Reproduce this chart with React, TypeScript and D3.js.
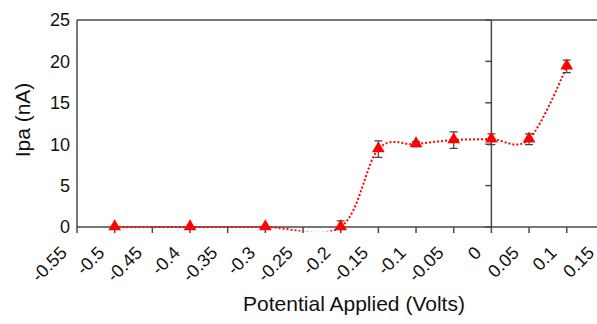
import React from 'react';
import * as d3 from 'd3';

const xValues = [-0.5, -0.4, -0.3, -0.2, -0.15, -0.1, -0.05, 0, 0.05, 0.1];
const ipaValues = [0, 0, 0, 0, 9.4, 10.0, 10.5, 10.6, 10.6, 19.4];
const errValues = [0, 0, 0, 0.75, 1.0, 0.3, 1.0, 0.65, 0.65, 0.75];
const xTickValues = [-0.55, -0.5, -0.45, -0.4, -0.35, -0.3, -0.25, -0.2, -0.15, -0.1, -0.05, 0, 0.05, 0.1, 0.15];
const xTickLabels = ['-0.55', '-0.5', '-0.45', '-0.4', '-0.35', '-0.3', '-0.25', '-0.2', '-0.15', '-0.1', '-0.05', '0', '0.05', '0.1', '0.15'];
const yTickValues = [0, 5, 10, 15, 20, 25];
const yTickLabels = ['0', '5', '10', '15', '20', '25'];

const W = 597;
const H = 324;
const FONT = '"Liberation Sans", Arial, sans-serif';
const AXIS = '#4a4a4a';

export default function App() {
  const x = d3.scaleLinear().domain([-0.55, 0.15]).range([77, 604.4]);
  const y = d3.scaleLinear().domain([0, 25]).range([227, 20]);
  const pts: [number, number][] = xValues.map((v, i) => [x(v), y(ipaValues[i])]);
  const line = d3.line().curve(d3.curveCardinal.tension(0))(pts) || '';
  const tri = d3.symbol().type(d3.symbolTriangle).size(70)() || '';
  const x0 = x(0);
  const yBase = y(0);
  return (
    <svg width={W} height={H} style={{ position: 'absolute', left: 0, top: 0, background: '#fff' }} fontFamily={FONT}>
      <defs>
        <clipPath id="plotclip">
          <rect x={x(-0.55)} y={y(25)} width={W - x(-0.55)} height={yBase + 4.5 - y(25)} />
        </clipPath>
      </defs>
      {/* plot border */}
      <line x1={x(-0.55)} x2={W} y1={y(25)} y2={y(25)} stroke={AXIS} strokeWidth={1.5} />
      <line x1={x(-0.55)} x2={x(-0.55)} y1={y(25)} y2={yBase} stroke={AXIS} strokeWidth={1.5} />
      {/* vertical axis at x=0 */}
      <line x1={x0} x2={x0} y1={y(25)} y2={yBase} stroke={AXIS} strokeWidth={1.5} />
      {yTickValues.map((v) => (
        <line key={'yt' + v} x1={x0 - 6} x2={x0} y1={y(v)} y2={y(v)} stroke={AXIS} strokeWidth={1.5} />
      ))}
      {/* horizontal axis */}
      <line x1={x(-0.55)} x2={W} y1={yBase} y2={yBase} stroke={AXIS} strokeWidth={1.5} />
      {xTickValues.map((v) => (
        <line key={'xt' + v} x1={x(v)} x2={x(v)} y1={yBase} y2={yBase + 6} stroke={AXIS} strokeWidth={1.5} />
      ))}
      {/* y tick labels */}
      {yTickValues.map((v, i) => (
        <text key={'yl' + v} x={70} y={y(v)} dy="0.35em" textAnchor="end" fontSize={18} fill="#111">
          {yTickLabels[i]}
        </text>
      ))}
      {/* x tick labels */}
      {xTickValues.map((v, i) => (
        <text
          key={'xl' + v}
          transform={`translate(${x(v) - 9},${yBase + 27}) rotate(-45)`}
          textAnchor="end"
          fontSize={18}
          fill="#111"
        >
          {xTickLabels[i]}
        </text>
      ))}
      {/* axis titles */}
      <text x={354} y={311} textAnchor="middle" fontSize={21} fill="#111">
        Potential Applied (Volts)
      </text>
      <text transform={`translate(30,120) rotate(-90)`} textAnchor="middle" fontSize={21} fill="#111">
        Ipa (nA)
      </text>
      {/* series */}
      <g clipPath="url(#plotclip)">
        <path d={line} fill="none" stroke="#ff0000" strokeWidth={2} strokeDasharray="2 2" />
        {xValues.map((v, i) =>
          errValues[i] > 0 ? (
            <g key={'e' + i} stroke="#444" strokeWidth={1.2}>
              <line x1={x(v)} x2={x(v)} y1={y(ipaValues[i] + errValues[i])} y2={y(ipaValues[i] - errValues[i])} />
              <line x1={x(v) - 4} x2={x(v) + 4} y1={y(ipaValues[i] + errValues[i])} y2={y(ipaValues[i] + errValues[i])} />
              <line x1={x(v) - 4} x2={x(v) + 4} y1={y(ipaValues[i] - errValues[i])} y2={y(ipaValues[i] - errValues[i])} />
            </g>
          ) : null
        )}
      </g>
      {xValues.map((v, i) => (
        <path key={'m' + i} d={tri} transform={`translate(${x(v)},${y(ipaValues[i]) - 0.5})`} fill="#ff0000" />
      ))}
    </svg>
  );
}
